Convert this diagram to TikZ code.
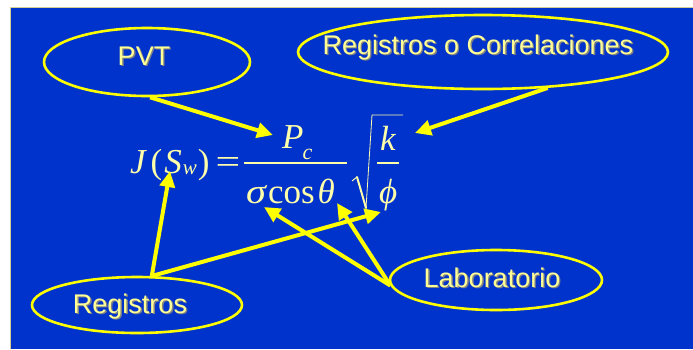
\documentclass[tikz,border=0pt]{standalone}
\usepackage{fontspec}
\setmainfont{Liberation Sans}
\newfontfamily\eqfont{Liberation Serif}
\usetikzlibrary{shapes.geometric,arrows.meta}
\definecolor{bgblue}{RGB}{0,51,204}
\definecolor{lineyellow}{RGB}{255,255,0}
\definecolor{labeltext}{RGB}{255,255,150}
\definecolor{eqtext}{RGB}{255,255,170}
\definecolor{shadowgray}{RGB}{130,130,130}
\definecolor{edgebeige}{RGB}{210,205,150}
\newcommand\shtext[1]{\makebox[0pt][l]{\hspace{1.3pt}\raisebox{-1.3pt}{\color{shadowgray}#1}}#1}
\begin{document}
\begin{tikzpicture}[x=1pt,y=-1pt,
  oval/.style={ellipse, draw=lineyellow, line width=2.6pt, inner sep=0pt},
  lbl/.style={font=\fontsize{27}{27}\selectfont, text=labeltext, inner sep=0pt, anchor=base},
  ptr/.style={draw=lineyellow, line width=4pt, -{Triangle[length=16pt,width=15pt]}},
  eq/.style={font=\eqfont\fontsize{35}{35}\selectfont, text=eqtext, inner sep=0pt, anchor=base west},
  eqline/.style={draw=eqtext, line width=1.3pt},
]
\useasboundingbox (0,0) rectangle (693,349);
\fill[white] (0,0) rectangle (693,349);
\fill[bgblue] (10,7) rectangle (693,349);
\draw[edgebeige, line width=0.7pt] (10,349) -- (10,7) -- (693,7);

% ovals
\node[oval, minimum width=206pt, minimum height=68pt] (pvt) at (147,62) {};
\node[lbl] (pvttext) at (144,65) {\shtext{PVT}};
\node[oval, minimum width=370pt, minimum height=74pt] (roc) at (483,52) {};
\node[lbl] (roctext) at (478,54) {\shtext{Registros o Correlaciones}};
\node[oval, minimum width=212pt, minimum height=60pt] (lab) at (496,280) {};
\node[lbl] (labtext) at (492,287) {\shtext{Laboratorio}};
\node[oval, minimum width=210pt, minimum height=56pt] (reg) at (137,305) {};
\node[lbl] (regtext) at (130,313) {\shtext{Registros}};

% formula
\node[eq] (lhs) at (130,173) {\itshape J\kern5pt\upshape(\kern2pt\itshape S\kern1pt\raisebox{-1pt}{\fontsize{21}{21}\selectfont w}\kern1pt\upshape)\kern6pt\scalebox{1.25}[1]{=}};
\node[eq] (num) at (282,148) {\itshape P\kern-1pt\raisebox{-11pt}{\fontsize{22}{22}\selectfont c}};
\node[eq] (den) at (246,203) {\itshape\scalebox{1.15}[1]{σ}\upshape\kern2pt cos\kern3pt\itshape θ};
\draw[eqline] (244,163) -- (347,163);
\node[eq] (kk) at (380,150) {\itshape k};
\draw[eqline] (377,163) -- (399,163);
\node[eq] (ph) at (379,203) {\itshape ϕ};
% radical
\draw[eqline, line width=0.9pt, line join=round] (352,181) -- (357,177);
\draw[eqline, line width=2pt, line cap=round] (357,177) -- (366,208);
\draw[eqline, line width=0.8pt] (366,208) -- (372,115) -- (403,115);

% arrow targets
\coordinate (tipPc) at (273,135);
\coordinate (tipK) at (415,133);
\coordinate (tipS) at (170,171);
\coordinate (tipPhi) at (381,212);
\coordinate (tipSigma) at (264,207);
\coordinate (tipTheta) at (337,203);

% arrows
\draw[ptr] (pvt.-85) -- (tipPc);
\draw[ptr] (roc.-29) -- (tipK);
\draw[ptr] (reg.63) -- (tipS);
\draw[ptr] (reg.63) -- (tipPhi);
\draw[ptr] (lab.183) -- (tipSigma);
\draw[ptr] (lab.183) -- (tipTheta);
\end{tikzpicture}
\end{document}
